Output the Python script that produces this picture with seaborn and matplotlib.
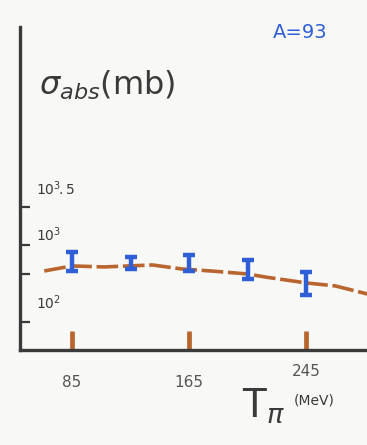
import numpy as np
import matplotlib
matplotlib.use('Agg')
import matplotlib.pyplot as plt
import matplotlib.transforms as mtransforms
import seaborn as sns

# pion kinetic energy (MeV) and absorption cross section (mb)
energies = [85, 125, 165, 205, 245]
sigma = [618, 590, 591, 486, 319]
sigma_lo = [464, 493, 464, 365, 225]
sigma_hi = [822, 707, 752, 646, 451]

# hand drawn model curve
curve_T = [66, 85, 107, 140, 160, 180, 205, 217, 245, 265, 287]
curve_sigma = [464, 540, 524, 556, 493, 464, 424, 387, 324, 296, 232]

xtick_vals = [85, 165, 245]
xtick_text = ['85', '165', '245']
ytick_vals = [100, 425, 1000, 10**3.5]
ytick_text = [r'$10^2$', '', r'$10^3$', r'$10^3\!.5$']

brown = '#b9652f'
blue = '#2f5fd6'
ink = '#3a3a3a'

sns.set_theme(style='white')
plt.rcParams['font.family'] = ['DejaVu Sans']

fig = plt.figure(figsize=(3.67, 4.45), dpi=100)
fig.patch.set_facecolor('#f8f8f6')
ax = fig.add_axes([0.0545, 0.2135, 0.9455, 0.726])
ax.set_facecolor('#f8f8f6')

df_curve = {'T': curve_T, 'sigma': curve_sigma}
sns.lineplot(x='T', y='sigma', data=df_curve, ax=ax, color=brown, lw=2.6,
             linestyle=(0, (6, 1.3)))

yerr = np.array([np.array(sigma) - np.array(sigma_lo),
                 np.array(sigma_hi) - np.array(sigma)])
ax.errorbar(energies, sigma, yerr=yerr, fmt='none', ecolor=blue,
            elinewidth=3.2, capsize=4, capthick=3.2, zorder=5)

ax.set_yscale('log')
ax.set_xlim(49.4, 286.7)
ax.set_ylim(43, 7.2e5)
ax.set_xlabel('')
ax.set_ylabel('')

for s in ['top', 'right']:
    ax.spines[s].set_visible(False)
for s in ['left', 'bottom']:
    ax.spines[s].set_color(ink)
    ax.spines[s].set_linewidth(2.4)

ax.set_xticks(xtick_vals)
ax.set_xticklabels([])
ax.tick_params(axis='x', bottom=True, direction='in', length=14, width=3.4, color=brown)
ax.set_yticks(ytick_vals)
ax.set_yticks([], minor=True)
ax.set_yticklabels([])
ax.tick_params(axis='y', left=True, direction='in', length=7, width=1.6, color=ink)

trx = mtransforms.blended_transform_factory(ax.transData, ax.transAxes)
label_y = [-0.102, -0.102, -0.066]
for v, t, yy in zip(xtick_vals, xtick_text, label_y):
    ax.text(v, yy, t, transform=trx, ha='center', va='center',
            fontsize=11, color='#555555')

trY = mtransforms.blended_transform_factory(ax.transAxes, ax.transData)
label_shift = [1.8, 1.0, 1.4, 1.75]
for v, t, k in zip(ytick_vals, ytick_text, label_shift):
    if t:
        ax.text(0.045, v * k, t, transform=trY, ha='left', va='center',
                fontsize=10, color=ink)

ax.text(0.055, 0.82, r'$\sigma_{abs}$(mb)', transform=ax.transAxes,
        ha='left', va='center', fontsize=23, color=ink)

fig.text(0.817, 0.928, 'A=93', ha='center', va='center', fontsize=14, color=blue)
fig.text(0.66, 0.088, r'$\mathrm{T}_{\pi}$', ha='left', va='center', fontsize=28, color=ink)
fig.text(0.80, 0.10, '(MeV)', ha='left', va='center', fontsize=10, color=ink)

fig.savefig('out.png', dpi=100, facecolor=fig.get_facecolor())
